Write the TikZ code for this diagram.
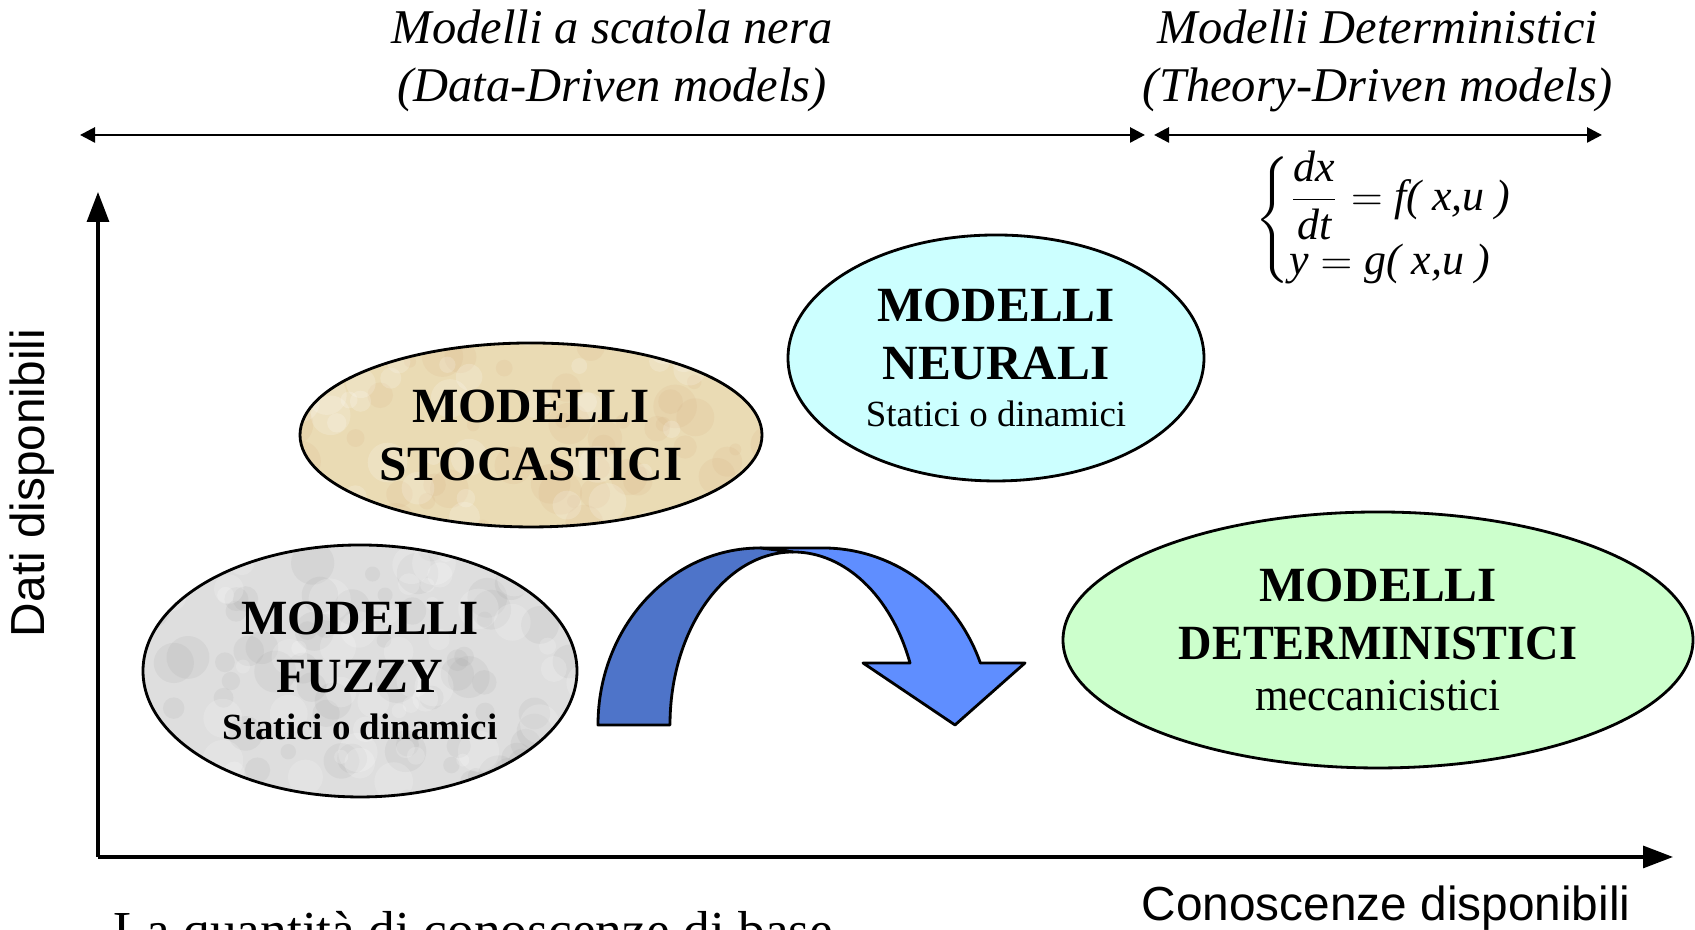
\documentclass[tikz,border=0pt]{standalone}
\usepackage{amsmath}
\usepackage{graphicx}
\usepackage{fontspec}
\setmainfont{Liberation Serif}
\setsansfont{Liberation Sans}
\usepackage{xcolor}
\usepackage{tikz}
\usetikzlibrary{arrows.meta, positioning, shapes.geometric, calc}

\definecolor{sandfill}{RGB}{234,219,180}
\definecolor{marblefill}{RGB}{222,222,222}
\definecolor{neurfill}{RGB}{204,255,255}
\definecolor{detfill}{RGB}{204,255,204}
\definecolor{arrowback}{RGB}{78,116,201}
\definecolor{arrowfront}{RGB}{95,142,255}

\begin{document}
\begin{tikzpicture}[
  x=0.1mm, y=0.1mm,
  model/.style={draw, ellipse, line width=0.8pt, inner sep=0pt, align=center, font=\fontsize{14}{16.5}\selectfont\bfseries},
  texture/.style={path picture={
      \foreach \k in {1,...,90}{
        \fill[#1, opacity=0.12] ($(path picture bounding box.center)+(rand*260,rand*150)$) circle[radius=14+8*rand];
      }
      \foreach \k in {1,...,70}{
        \fill[white, opacity=0.18] ($(path picture bounding box.center)+(rand*260,rand*150)$) circle[radius=14+8*rand];
      }}},
  span/.style={{Triangle[length=1.5mm,width=1.5mm]}-{Triangle[length=1.5mm,width=1.5mm]}, line width=0.75pt},
  axis/.style={-{Triangle[length=3mm,width=2.2mm]}, line width=0.9pt},
  title/.style={align=center, font=\fontsize{13.8}{16.4}\selectfont\itshape},
  axlabel/.style={font=\sffamily\fontsize{13.6}{16}\selectfont},
  bendarrow/.style={draw, line width=0.8pt, line join=round}
]
\pgfmathsetseed{11}
\useasboundingbox (0,0) rectangle (1695,930);

% TITLES AND RANGES
\node[title] (blackbox) at (612,869) {Modelli a scatola nera\\(Data-Driven models)};
\node[title] (theory) at (1378,869) {Modelli Deterministici\\(Theory-Driven models)};
\coordinate (dataL) at (80,795);
\coordinate (dataR) at (1145,795);
\coordinate (theoL) at (1154,795);
\coordinate (theoR) at (1602,795);
\draw[span] (dataL) -- (dataR);
\draw[span] (theoL) -- (theoR);

% EQUATIONS
\node[font=\fontsize{12.5}{14}\selectfont] (eq) at (1385,710)
  {$\left\{\begin{array}{@{}l@{}}\dfrac{\textit{dx}}{\textit{dt}}=\textit{f( x,u )}\\[3pt] \textit{y}=\textit{g( x,u )}\end{array}\right.$};

% AXES
\coordinate (origin) at (98,73);
\coordinate (ytop) at (98,738);
\coordinate (xend) at (1673,73);
\draw[axis] (origin) -- (ytop);
\draw[axis] (origin) -- (xend);
\node[axlabel, rotate=90, anchor=base] (ylabel) at (45,447) {Dati disponibili};
\node[axlabel, anchor=base] (xlabel) at (1386,9) {Conoscenze disponibili};
\node[font=\fontsize{15.2}{18}\selectfont, anchor=base west, inner sep=0pt] (note) at (113,-19) {La quantità di conoscenze di base};

% MODELS
\node[model, fill=sandfill, texture=brown!70, minimum width=46.2mm, minimum height=18.4mm] (stoc) at (531,495)
  {MODELLI\\STOCASTICI};
\node[model, fill=neurfill, minimum width=41.6mm, minimum height=24.6mm] (neur) at (996,572)
  {MODELLI\\NEURALI\\[-3pt]{\mdseries\fontsize{10.5}{13}\selectfont Statici o dinamici}};
\node[model, fill=marblefill, texture=gray!80, minimum width=43.4mm, minimum height=25.2mm] (fuzzy) at (360,259)
  {MODELLI\\FUZZY\\[-3pt]{\fontsize{10.5}{13}\selectfont Statici o dinamici}};
\node[model, fill=detfill, minimum width=63mm, minimum height=25.6mm] (det) at (1378,290)
  {MODELLI\\\scalebox{0.94}[1]{DETERMINISTICI}\\[-2pt]{\mdseries\fontsize{13}{15}\selectfont\scalebox{0.94}[1]{meccanicistici}}};

% CURVED ARROW
\draw[bendarrow, fill=arrowfront] (760,382) -- (823,382)
  arc[start angle=90, end angle=20.5, x radius=168, y radius=177]
  -- (1025,267) -- (955,205) -- (863,267) -- (910,267)
  arc[start angle=21, end angle=90, x radius=125, y radius=173] -- cycle;
\draw[bendarrow, fill=arrowback] (598,205)
  arc[start angle=180, end angle=90, x radius=162, y radius=177] -- (793,378)
  arc[start angle=90, end angle=180, x radius=123, y radius=173] -- cycle;

\end{tikzpicture}
\end{document}
